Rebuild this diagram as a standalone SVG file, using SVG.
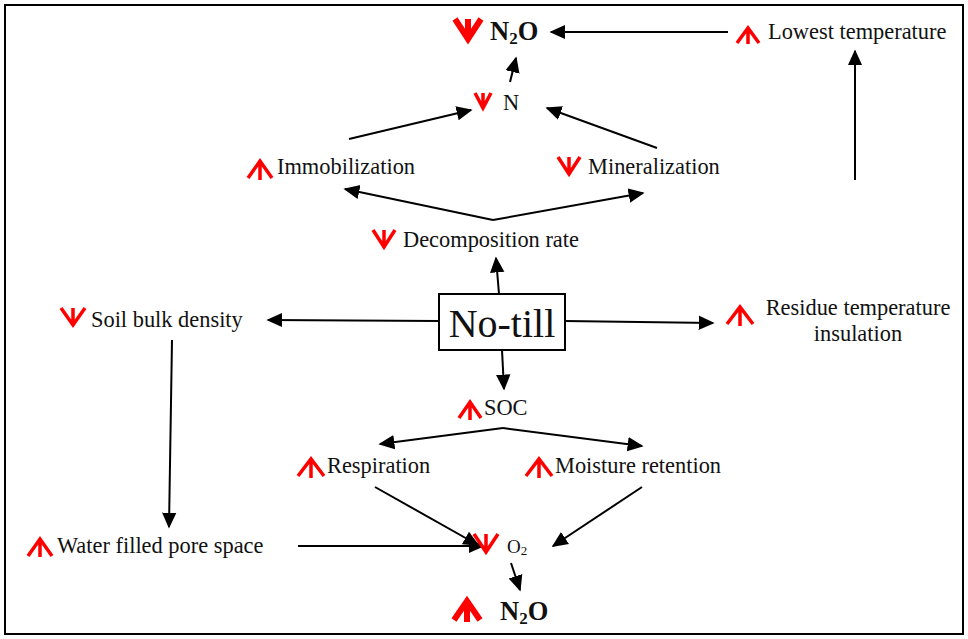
<svg xmlns="http://www.w3.org/2000/svg" width="968" height="639" viewBox="0 0 968 639">
<style>
text{font-family:"Liberation Serif","Times New Roman",serif;fill:#111;font-size:22.4px}
.b{font-weight:bold;font-size:26.5px}
.big{font-size:40px}
.e{stroke:#000;stroke-width:2;fill:none}
.r{stroke:#f00;stroke-width:3.5;fill:none;stroke-linejoin:miter}
.rt{stroke:#f00;stroke-width:6;fill:none;stroke-linejoin:miter}
</style>
<defs>
<marker id="a" viewBox="0 0 10 10" refX="9" refY="5" markerWidth="8" markerHeight="8" orient="auto">
<path d="M0,0.5 L10,5 L0,9.5 z" fill="#000"/>
</marker>
</defs>
<rect x="0" y="0" width="968" height="639" fill="#fff"/>
<rect x="5" y="5" width="958" height="629" fill="none" stroke="#000" stroke-width="2"/>

<g id="connectors">
<line class="e" x1="728" y1="32" x2="551" y2="32" marker-end="url(#a)"/>
<line class="e" x1="855" y1="180" x2="855" y2="51" marker-end="url(#a)"/>
<line class="e" x1="510" y1="82" x2="516" y2="58" marker-end="url(#a)"/>
<line class="e" x1="349" y1="139" x2="471" y2="110" marker-end="url(#a)"/>
<line class="e" x1="657" y1="148" x2="547" y2="108" marker-end="url(#a)"/>
<line class="e" x1="493" y1="220" x2="345" y2="189" marker-end="url(#a)"/>
<line class="e" x1="493" y1="220" x2="643" y2="193" marker-end="url(#a)"/>
<line class="e" x1="499" y1="294" x2="496" y2="258" marker-end="url(#a)"/>
<line class="e" x1="439" y1="321" x2="268" y2="320" marker-end="url(#a)"/>
<line class="e" x1="565" y1="321" x2="713" y2="323" marker-end="url(#a)"/>
<line class="e" x1="172" y1="340" x2="169" y2="527" marker-end="url(#a)"/>
<line class="e" x1="502" y1="350" x2="504" y2="389" marker-end="url(#a)"/>
<line class="e" x1="503" y1="428" x2="380" y2="444" marker-end="url(#a)"/>
<line class="e" x1="503" y1="428" x2="642" y2="446" marker-end="url(#a)"/>
<line class="e" x1="375" y1="487" x2="478" y2="545" marker-end="url(#a)"/>
<line class="e" x1="642" y1="487" x2="553" y2="546" marker-end="url(#a)"/>
<line class="e" x1="298" y1="546" x2="483" y2="546" marker-end="url(#a)"/>
<line class="e" x1="511" y1="563" x2="520" y2="590" marker-end="url(#a)"/>
</g>

<g id="n2o-top">
<path class="rt" d="M455,19 L468,39 L481,19 M468,19 V39"/>
<text class="b" x="490" y="40">N<tspan style="font-size:17px" dy="4">2</tspan><tspan dy="-4">O</tspan></text>
</g>
<g id="lowest-temperature">
<path class="r" d="M737,43 L748,28 L759,43 M748,28 V44"/>
<text x="768" y="39">Lowest temperature</text>
</g>
<g id="n">
<path class="r" d="M475,93 L483,108 L491,93 M483,93 V108"/>
<text x="503" y="110">N</text>
</g>
<g id="immobilization">
<path class="r" d="M248,178 L260,161 L272,178 M260,161 V180"/>
<text x="277" y="174">Immobilization</text>
</g>
<g id="mineralization">
<path class="r" d="M558,157 L569,174 L580,157 M569,157 V174"/>
<text x="588" y="174">Mineralization</text>
</g>
<g id="decomposition">
<path class="r" d="M373,230 L384,247 L395,230 M384,230 V247"/>
<text x="403" y="247">Decomposition rate</text>
</g>
<g id="no-till">
<rect x="439" y="294" width="126" height="56" fill="#fff" stroke="#000" stroke-width="2"/>
<text class="big" x="502" y="337" text-anchor="middle">No-till</text>
</g>
<g id="soil-bulk-density">
<path class="r" d="M61,308 L73,325 L85,308 M73,308 V325"/>
<text x="91" y="327">Soil bulk density</text>
</g>
<g id="residue">
<path class="r" d="M727,324 L740,307 L753,324 M740,307 V326"/>
<text x="858" y="315" text-anchor="middle">Residue temperature</text>
<text x="858" y="341" text-anchor="middle">insulation</text>
</g>
<g id="soc">
<path class="r" d="M459,418 L470,402 L481,418 M470,402 V420"/>
<text x="484" y="415">SOC</text>
</g>
<g id="respiration">
<path class="r" d="M298,476 L311,459 L324,476 M311,459 V478"/>
<text x="327" y="473">Respiration</text>
</g>
<g id="moisture">
<path class="r" d="M526,476 L539,459 L552,476 M539,459 V478"/>
<text x="555" y="473">Moisture retention</text>
</g>
<g id="wfps">
<path class="r" d="M28,556 L40,539 L52,556 M40,539 V557"/>
<text x="57" y="553">Water filled pore space</text>
</g>
<g id="o2">
<path class="r" d="M474,534 L486,552 L498,534 M486,534 V552"/>
<text x="507" y="553" style="font-size:19px">O<tspan style="font-size:13px" dy="2">2</tspan></text>
</g>
<g id="n2o-bottom">
<path class="rt" d="M454,620 L467,601 L480,620 M467,601 V622"/>
<text class="b" x="500" y="620">N<tspan style="font-size:17px" dy="4">2</tspan><tspan dy="-4">O</tspan></text>
</g>
</svg>
